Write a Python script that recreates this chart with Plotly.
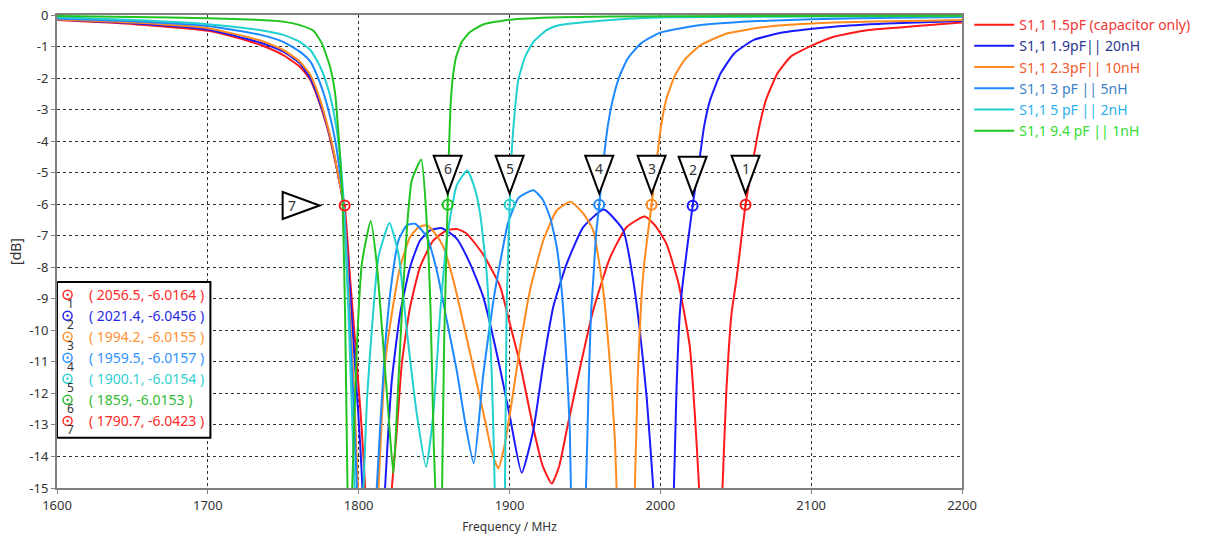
import plotly.graph_objects as go

# ---------------- data ----------------
series_names = [
    "S1,1 1.5pF (capacitor only)",
    "S1,1 1.9pF|| 20nH",
    "S1,1 2.3pF|| 10nH",
    "S1,1 3 pF || 5nH",
    "S1,1 5 pF || 2nH",
    "S1,1 9.4 pF || 1nH",
]
line_colors = ["#ff1a1a", "#1a1aff", "#ff8a1e", "#1e88ff", "#22d0d0", "#22c422"]
legend_text_colors = ["#f03535", "#2b358f", "#f05a2e", "#3d82c4", "#2fb2ee", "#33dd33"]

red_x = [1600, 1651, 1700, 1717, 1735, 1750, 1761, 1768, 1773.4, 1779, 1783.3, 1786.6, 1790.7, 1794.4,
         1798.8, 1802.1, 1804.3, 1805.5, 1813, 1820.5, 1822, 1825.3, 1828.6, 1834.1, 1840.7, 1849.5,
         1858.4, 1865.5, 1872, 1882.6, 1893.7, 1900.3, 1907, 1915.8, 1922, 1928, 1933, 1937.9, 1946.7,
         1955.3, 1966.6, 1977.6, 1989.7, 1997, 2004, 2012, 2019.5, 2022.8, 2025.7, 2027, 2034, 2040,
         2041.2, 2043.8, 2047.2, 2050.4, 2056.5, 2062.3, 2065.6, 2070, 2077.7, 2086.5, 2100, 2115,
         2137, 2170, 2200]
red_y = [-0.16, -0.29, -0.5, -0.69, -0.95, -1.27, -1.64, -2.06, -2.7, -3.54, -4.39, -5.13, -6.04, -8.41,
         -11.06, -13.17, -15, -16.5, -25, -16.5, -15, -13.17, -11.06, -9.26, -7.99, -7.15,
         -6.83, -6.79, -6.95, -7.6, -8.6, -9.8, -11.06, -13.1, -14.3, -14.86, -14.3, -13.17, -11.2,
         -9.4, -7.7, -6.73, -6.39, -6.7, -7.25, -8.5, -10.5, -12.6, -15, -16.5, -25, -16.5,
         -15, -11.9, -9.47, -8.41, -6.02, -4.39, -3.54, -2.7, -1.85, -1.32, -0.98, -0.69,
         -0.48, -0.35, -0.24]

blue_x = [1600, 1651, 1700, 1735, 1750, 1761, 1768, 1773.4, 1779, 1783.3, 1786.6, 1790, 1794, 1798,
          1801, 1802.5, 1804, 1810, 1816, 1817.5, 1822, 1827.5, 1834.1, 1840.7, 1847.4, 1855.3, 1865,
          1874, 1882.6, 1893.7, 1900.3, 1908.1, 1915.8, 1922.4, 1929, 1937.9, 1948.9, 1962.5, 1975.4,
          1982, 1986.4, 1990.9, 1995.3, 1997, 2002, 2007.5, 2009, 2010.7, 2012.9, 2015.1, 2021.4,
          2026.5, 2029, 2033, 2040, 2049, 2062, 2082, 2115, 2150, 2200]
blue_y = [-0.14, -0.26, -0.46, -0.88, -1.16, -1.53, -2.01, -2.65, -3.49, -4.34, -5.13, -6.03, -8.6, -11.4,
          -13.6, -15, -16.5, -25, -16.5, -15, -11.58, -9.47, -7.99, -7.15, -6.83, -6.76, -7.09,
          -7.9, -8.94, -11.2, -12.75, -14.52, -13.17, -11.06, -9.26, -7.89, -6.73, -6.17, -6.83,
          -8.41, -10.0, -12.1, -15, -16.5, -25, -16.5, -15, -11.9, -9.47, -8.41, -6.05,
          -4.39, -3.54, -2.7, -1.85, -1.22, -0.79, -0.55, -0.37, -0.27, -0.19]

orange_x = [1600, 1651, 1700, 1735, 1750, 1761, 1768, 1773.4, 1779, 1783.3, 1786.6, 1790, 1793.5, 1797,
            1799.5, 1801, 1806, 1811.5, 1813.1, 1817.5, 1822, 1827.5, 1834.1, 1840, 1845.2, 1851,
            1856.2, 1862.8, 1870, 1877, 1884, 1888.5, 1892.6, 1896.5, 1900.3, 1907, 1913.6, 1922.4,
            1931.3, 1940.5, 1949, 1955.5, 1962.1, 1966.6, 1969.9, 1971, 1972.5, 1977, 1981.5, 1983.1,
            1985, 1987.2, 1989.5, 1994.2, 1998.2, 2000.4, 2003.8, 2009.3, 2015.9, 2027, 2044.6, 2071,
            2115, 2200]
orange_y = [-0.14, -0.24, -0.42, -0.81, -1.11, -1.48, -1.9, -2.54, -3.44, -4.29, -5.13, -6.0, -8.8, -12.0,
            -15, -16.5, -25, -16.5, -15, -11.06, -9.47, -7.99, -7.04, -6.72, -6.67, -6.95,
            -7.36, -8.41, -9.9, -11.4, -12.9, -13.9, -14.38, -13.7, -12.64, -10.53, -8.73, -7.15,
            -6.2, -5.92, -6.3, -6.83, -8.73, -11.06, -13.49, -15, -16.5, -25, -16.5, -15,
            -11.5, -9.2, -7.8, -6.02, -4.39, -3.54, -2.7, -1.96, -1.43, -0.95, -0.58, -0.37,
            -0.24, -0.16]

dodger_x = [1600, 1651, 1700, 1735, 1750, 1761, 1768, 1774.5, 1780, 1784.4, 1787.7, 1790, 1793, 1796.5,
            1798.8, 1800.5, 1805, 1810.5, 1812, 1817.5, 1822, 1826.4, 1831.9, 1837.4, 1845.2, 1851.8,
            1858.4, 1865, 1870.5, 1876.3, 1882.6, 1889.5, 1894, 1899, 1906, 1915.8, 1922, 1926.8,
            1931.3, 1934.6, 1937.9, 1940, 1940.7, 1942, 1946, 1949.2, 1950.7, 1952.5, 1954, 1955.5,
            1957.5, 1959.5, 1962.9, 1965.1, 1968.4, 1972.8, 1978.4, 1987.2, 2000, 2027, 2071, 2130, 2200]
dodger_y = [-0.11, -0.2, -0.35, -0.63, -0.85, -1.16, -1.48, -2.17, -3.02, -3.97, -5.03, -6.0, -8.8, -12.2,
            -15, -16.5, -25, -16.5, -15, -10.53, -8.41, -7.15, -6.67, -6.62, -7.04, -8.1,
            -9.68, -11.27, -12.9, -14.22, -11.4, -9.0, -7.8, -6.6, -5.8, -5.56, -5.85, -6.4,
            -7.35, -8.73, -11.06, -13.17, -15, -16.5, -25, -16.5, -15, -11.7, -9.5, -8.41,
            -6.9, -6.02, -4.39, -3.54, -2.7, -1.96, -1.38, -0.9, -0.56, -0.32, -0.18, -0.1, -0.06]

cyan_x = [1600, 1651, 1700, 1735, 1750, 1761, 1768, 1774.5, 1780, 1784.4, 1787.7, 1790, 1792.5, 1795.5,
          1797.3, 1798.5, 1800.5, 1802, 1803.2, 1805.5, 1808.7, 1813.1, 1820.4, 1826.4, 1831.9, 1838.5,
          1844.7, 1849.5, 1854, 1858.4, 1865, 1872, 1877, 1880.5, 1884.9, 1888.2, 1889.5, 1890.2,
          1891, 1893.5, 1896, 1897, 1898.1, 1900.1, 1901.4, 1903.6, 1905.8, 1910.3, 1915.8, 1924.6,
          1933.4, 1960.7, 2005, 2100, 2200]
cyan_y = [-0.07, -0.16, -0.29, -0.48, -0.63, -0.85, -1.11, -1.64, -2.38, -3.33, -4.5, -5.87, -8.5, -12.5,
          -15, -16.5, -25, -16.5, -15, -12.2, -10.0, -7.68, -6.6, -7.58, -10.0, -12.64,
          -14.33, -12.64, -9.47, -7.15, -5.4, -4.93, -5.5, -6.3, -8.2, -11.37, -13.5, -15,
          -16.5, -25, -16.5, -15, -9.26, -6.02, -4.4, -3.0, -2.07, -1.33, -0.86, -0.48,
          -0.32, -0.18, -0.07, -0.05, -0.04]

green_x = [1600, 1651, 1700, 1735, 1750, 1761, 1770, 1775.6, 1781, 1784.4, 1786.6, 1788.1, 1789.4, 1791,
           1792.6, 1793.3, 1794.2, 1795, 1795.7, 1798.8, 1802.1, 1808, 1812, 1816.4, 1819.7, 1823,
           1825.3, 1828.6, 1831.9, 1835.2, 1841.5, 1845.2, 1847.6, 1849.7, 1850.8, 1851.5, 1853,
           1854.5, 1855.3, 1856.7, 1859, 1859.8, 1860.8, 1862.2, 1864.6, 1868.3, 1873.8, 1882.6,
           1900, 1933.4, 2000, 2100, 2200]
green_y = [-0.03, -0.06, -0.1, -0.16, -0.21, -0.32, -0.5, -0.9, -1.64, -2.49, -3.76, -4.81, -6.0, -9.5,
           -15, -16.5, -25, -16.5, -15, -10.53, -7.89, -6.53, -7.89, -10.53, -12.64, -14.54,
           -12.64, -9.47, -6.83, -5.25, -4.58, -6.62, -9.26, -13.5, -15, -16.5, -25,
           -16.5, -15, -10.3, -6.02, -4.4, -3.0, -2.07, -1.33, -0.86, -0.54, -0.3,
           -0.15, -0.07, -0.04, -0.03, -0.02]

# markers (number, frequency, level)
marker_ids = [1, 2, 3, 4, 5, 6, 7]
marker_x = [2056.5, 2021.4, 1994.2, 1959.5, 1900.1, 1859, 1790.7]
marker_y = [-6.0164, -6.0456, -6.0155, -6.0157, -6.0154, -6.0153, -6.0423]
marker_series = [0, 1, 2, 3, 4, 5, 0]
readout_colors = ["#ff2a2a", "#2a2ae6", "#ff9233", "#3392ff", "#33d0d0", "#33bb33", "#ff2a2a"]

x_ticks = [1600, 1700, 1800, 1900, 2000, 2100, 2200]
y_ticks = list(range(0, -16, -1))

# ---------------- figure ----------------
xs = [red_x, blue_x, orange_x, dodger_x, cyan_x, green_x]
ys = [red_y, blue_y, orange_y, dodger_y, cyan_y, green_y]

fig = go.Figure()
for name, x, y, lc, tc in zip(series_names, xs, ys, line_colors, legend_text_colors):
    fig.add_trace(go.Scatter(
        x=x, y=y, mode="lines",
        line=dict(color=lc, width=2, shape="spline", smoothing=0.5),
        name=f'<span style="color:{tc}">{name}</span>',
        hoverinfo="skip",
    ))

# marker circles on curves
fig.add_trace(go.Scatter(
    x=marker_x, y=marker_y, mode="markers", showlegend=False, hoverinfo="skip",
    marker=dict(symbol="circle-open-dot", size=10,
                color=[line_colors[s] for s in marker_series], line=dict(width=2)),
))

shapes = []
annotations = []
for mid, mx, my in zip(marker_ids, marker_x, marker_y):
    if mid != 7:
        path = "M -14,49 L 14,49 L 0,11 Z"
        tx, ty = 0, 36
    else:
        path = "M -62,13.5 L -62,-13.5 L -25,0 Z"
        tx, ty = -53, 0
    shapes.append(dict(type="path", xref="x", yref="y", xsizemode="pixel", ysizemode="pixel",
                       xanchor=mx, yanchor=my, path=path, fillcolor="white",
                       line=dict(color="black", width=2), layer="above"))
    annotations.append(dict(x=mx, y=my, xref="x", yref="y", text=str(mid), showarrow=False,
                            xshift=tx, yshift=ty, font=dict(size=14, color="#333333",
                                                            family="Noto Sans")))

# readout box
row_top = -8.87
row_step = -0.667
box_x1 = 1701.7
rows_y = [row_top + i * row_step for i in range(len(marker_ids))]
shapes.append(dict(type="rect", xref="x", yref="y", x0=1600, x1=box_x1, y0=-8.47, y1=-13.41,
                   fillcolor="white", line=dict(color="black", width=2), layer="between"))
fig.add_trace(go.Scatter(
    x=[1607] * len(marker_ids), y=rows_y, mode="markers", showlegend=False, hoverinfo="skip",
    marker=dict(symbol="circle-open-dot", size=9, color=readout_colors, line=dict(width=1.5)),
))
for mid, mx, my, ry, rc in zip(marker_ids, marker_x, marker_y, rows_y, readout_colors):
    annotations.append(dict(x=1620, y=ry, xref="x", yref="y", xanchor="left",
                            text=f"( {mx:g}, {my:g} )", showarrow=False,
                            font=dict(size=14, color=rc, family="Noto Sans")))
    annotations.append(dict(x=1607, y=ry, xref="x", yref="y", text=str(mid), showarrow=False,
                            xshift=3, yshift=-9,
                            font=dict(size=12, color="#333333", family="Noto Sans")))

fig.update_layout(
    width=1215, height=540,
    margin=dict(l=57, r=253, t=15, b=52, autoexpand=False),
    paper_bgcolor="white", plot_bgcolor="white",
    font=dict(family="Noto Sans", size=13, color="#333333"),
    showlegend=True,
    legend=dict(x=1.008, y=1.0126, xanchor="left", yanchor="top",
                font=dict(size=14, family="Noto Sans"), bgcolor="rgba(0,0,0,0)",
                tracegroupgap=0, itemwidth=40),
    shapes=shapes,
    annotations=annotations,
)
fig.update_xaxes(
    range=[1600, 2200], tickvals=x_ticks, ticktext=[str(v) for v in x_ticks],
    showgrid=True, gridcolor="#333333", griddash="dot", gridwidth=1,
    showline=True, linecolor="#808080", linewidth=2, mirror=True,
    ticks="outside", ticklen=4, tickcolor="#808080",
    tickfont=dict(size=13, family="Noto Sans", color="#333333"),
    title=dict(text="Frequency / MHz", font=dict(size=12, family="Noto Sans", color="#333333"),
               standoff=10),
    zeroline=False, automargin=False,
)
fig.update_yaxes(
    range=[-15, 0], tickvals=y_ticks, ticktext=[str(v) for v in y_ticks],
    showgrid=True, gridcolor="#333333", griddash="dot", gridwidth=1,
    showline=True, linecolor="#808080", linewidth=2, mirror=True,
    ticks="outside", ticklen=4, tickcolor="#808080",
    tickfont=dict(size=13, family="Noto Sans", color="#333333"),
    title=dict(text="[dB]", font=dict(size=14, family="Noto Sans", color="#333333"), standoff=4),
    zeroline=False, automargin=False,
)

fig.write_html("out.html")
